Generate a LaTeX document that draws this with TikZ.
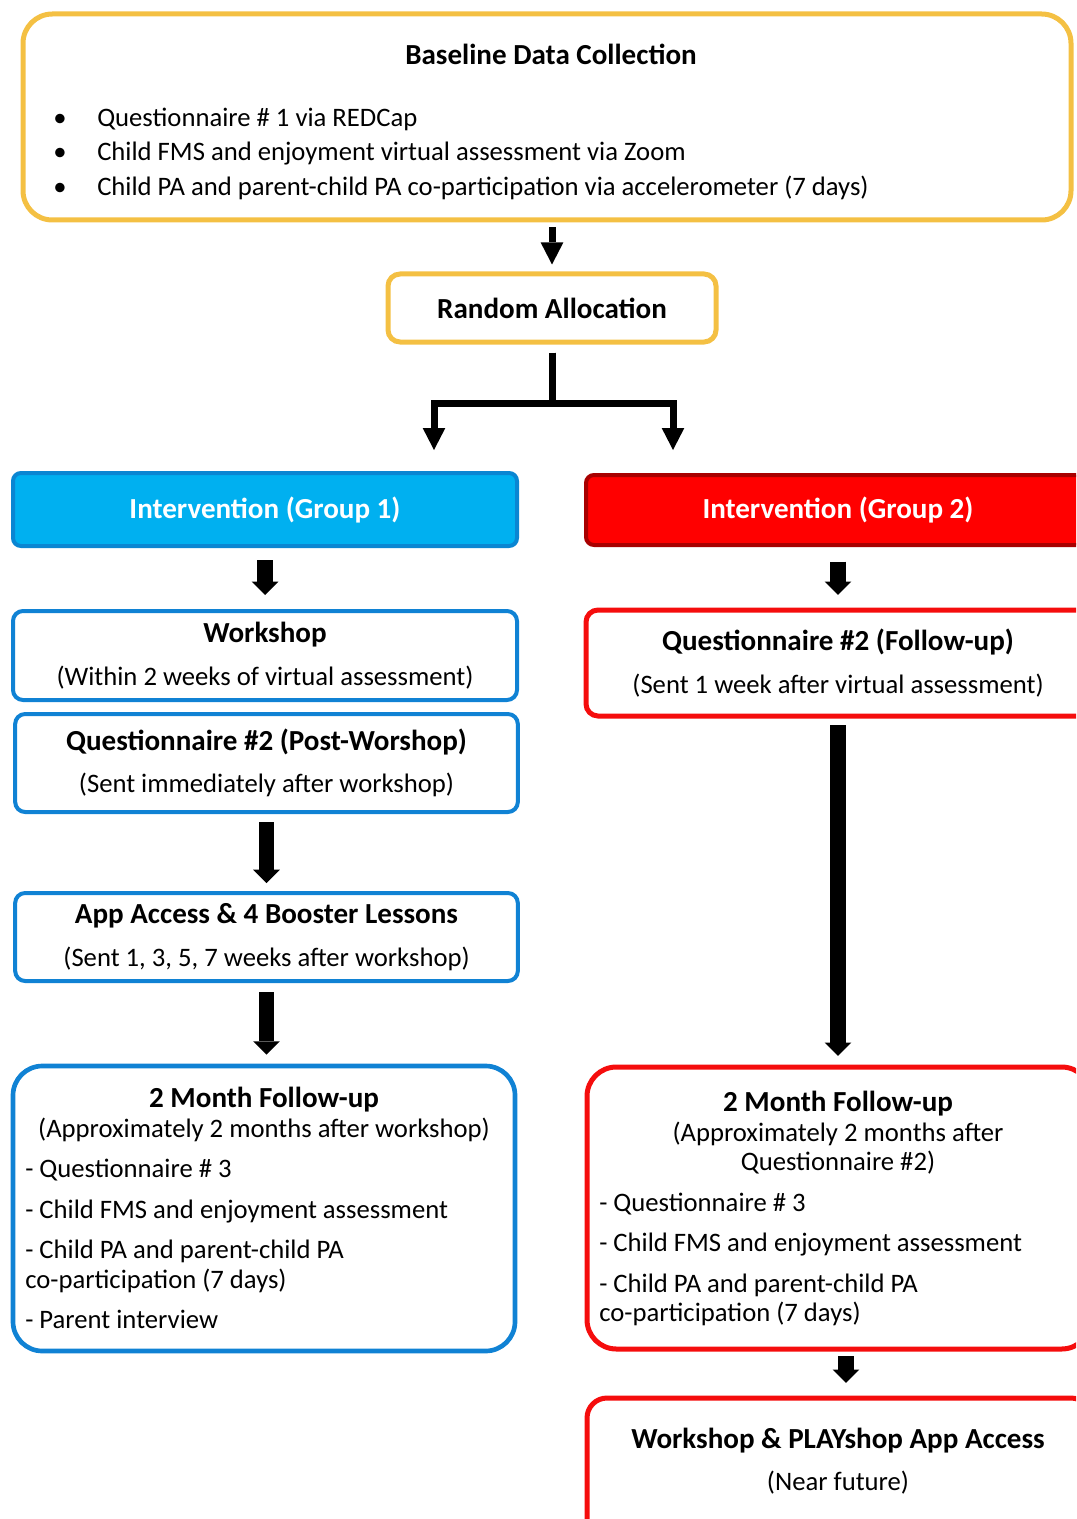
\documentclass[tikz,border=0pt]{standalone}
\usepackage{fontspec}
\setmainfont{Carlito}
\usetikzlibrary{arrows.meta}

\definecolor{gold}{HTML}{F4C043}
\definecolor{boxblue}{HTML}{1082D4}
\definecolor{fillblue}{HTML}{00B0F0}
\definecolor{lineblue}{HTML}{0A86D2}
\definecolor{boxred}{HTML}{F50D0D}
\definecolor{darkred}{HTML}{A80000}

\newcommand{\boxtitle}[1]{{\fontsize{21.8}{26}\selectfont\bfseries #1}}

\begin{document}
\begin{tikzpicture}[
        x=0.75pt, y=-0.75pt,
        box/.style={draw, line width=3pt, rounded corners=7.5pt, minimum width=378pt, inner sep=0pt, align=center, font=\fontsize{20}{24}\selectfont},
        bodytext/.style={inner sep=0pt, font=\fontsize{20}{24}\selectfont},
        titletext/.style={inner sep=0pt, font=\fontsize{21.8}{26}\selectfont\bfseries},
        thinarrow/.style={line width=5.25pt, -{Triangle[length=16.5pt, width=17pt, line width=0pt]}},
        blockarrow/.style={line width=11.5pt, -{Triangle[length=10pt, width=20pt, line width=0pt]}},
    ]
    \useasboundingbox (0,0) rectangle (1076,1519);
    \clip (0,0) rectangle (1076,1519);

    %====================== BASELINE ======================
    \node[box, draw=gold, line width=3.75pt, rounded corners=22pt, minimum width=786pt, minimum height=154.5pt] (baseline) at (547,117) {};
    \node[titletext] (base-title) at (551,54) {Baseline Data Collection};
    \node[bodytext, anchor=base] (bul-a) at (60,127) {•};
    \node[bodytext, anchor=base] (bul-b) at (60,161) {•};
    \node[bodytext, anchor=base] (bul-c) at (60,196) {•};
    \node[bodytext, anchor=base west] (base-a) at (97,127) {Questionnaire \# 1 via REDCap};
    \node[bodytext, anchor=base west] (base-b) at (97,161) {Child FMS and enjoyment virtual assessment via Zoom};
    \node[bodytext, anchor=base west] (base-c) at (97,196) {Child PA and parent-child PA co-participation via accelerometer (7 days)};

    \node[box, draw=gold, line width=3.75pt, rounded corners=9pt, minimum width=246pt, minimum height=51pt, font=\fontsize{21.8}{26}\selectfont\bfseries] (random) at (552,308) {Random Allocation};

    \draw[thinarrow, shorten <=3.75pt, shorten >=5.25pt] (random.north |- baseline.south) -- (random.north);

    \coordinate (split) at (552,403);
    \coordinate (g1in) at (434,450);
    \coordinate (g2in) at (673,450);
    \draw[thinarrow, shorten <=6pt] (random.south) -- (split) -| (g1in);
    \draw[thinarrow, shorten <=6pt] (random.south) -- (split) -| (g2in);

    %====================== GROUP 1 (left) ======================
    \node[box, draw=lineblue, fill=fillblue, text=white, rounded corners=6pt, minimum height=54.75pt, font=\fontsize{21.8}{26}\selectfont\bfseries] (group1) at (265,509.5) {Intervention (Group 1)};

    \node[box, draw=boxblue, minimum height=66.75pt] (workshop) at (265,655.5) {\boxtitle{Workshop}\\[8pt](Within 2 weeks of virtual assessment)};
    \node[box, draw=boxblue, minimum width=377pt, minimum height=73.5pt] (q2post) at (266.5,763) {\boxtitle{Questionnaire \#2 (Post-Worshop)}\\[8pt](Sent immediately after workshop)};
    \node[box, draw=boxblue, minimum width=377pt, minimum height=66pt] (app) at (266.5,937) {\boxtitle{App Access \& 4 Booster Lessons}\\[8pt](Sent 1, 3, 5, 7 weeks after workshop)};

    \node[box, draw=boxblue, line width=3.5pt, rounded corners=22pt, minimum width=376.5pt, minimum height=213.75pt] (fu1) at (264,1208.5) {};
    \node[titletext] (fu1-title) at (264,1100) {2 Month Follow-up};
    \node[bodytext] (fu1-sub) at (264,1130) {(Approximately 2 months after workshop)};
    \node[bodytext, anchor=base west] (fu1-a) at (25,1177) {- Questionnaire \# 3};
    \node[bodytext, anchor=base west] (fu1-b) at (25,1218) {- Child FMS and enjoyment assessment};
    \node[bodytext, anchor=base west] (fu1-c) at (25,1258) {- Child PA and parent-child PA};
    \node[bodytext, anchor=base west] (fu1-d) at (25,1288) {co-participation (7 days)};
    \node[bodytext, anchor=base west] (fu1-e) at (25,1328) {- Parent interview};

    \draw[blockarrow, shorten <=9pt, shorten >=10.5pt] (group1) -- (workshop);
    \draw[blockarrow, shorten <=6pt, shorten >=6pt] (q2post) -- (app);
    \draw[blockarrow, shorten <=6.75pt, shorten >=6.75pt] (app.south) -- (app.south |- fu1.north);

    %====================== GROUP 2 (right) ======================
    \node[box, draw=darkred, fill=red, text=white, rounded corners=6pt, minimum height=52.5pt, font=\fontsize{21.8}{26}\selectfont\bfseries] (group2) at (838,510) {Intervention (Group 2)};

    \node[box, draw=boxred, line width=3.75pt, rounded corners=9pt, minimum height=79.5pt] (q2fu) at (838,663) {\boxtitle{Questionnaire \#2 (Follow-up)}\\[8pt](Sent 1 week after virtual assessment)};

    \node[box, draw=boxred, line width=3.75pt, rounded corners=22pt, minimum height=211.5pt] (fu2) at (839,1208) {};
    \node[titletext] (fu2-title) at (838,1104) {2 Month Follow-up};
    \node[bodytext] (fu2-sub) at (838,1134) {(Approximately 2 months after};
    \node[bodytext] (fu2-sub2) at (838,1163) {Questionnaire \#2)};
    \node[bodytext, anchor=base west] (fu2-a) at (599,1211) {- Questionnaire \# 3};
    \node[bodytext, anchor=base west] (fu2-b) at (599,1251) {- Child FMS and enjoyment assessment};
    \node[bodytext, anchor=base west] (fu2-c) at (599,1292) {- Child PA and parent-child PA};
    \node[bodytext, anchor=base west] (fu2-d) at (599,1321) {co-participation (7 days)};

    \node[box, draw=boxred, line width=3.75pt, rounded corners=15pt, minimum height=106.5pt] (play) at (839,1469) {};
    \node[titletext] (play-title) at (838,1441) {Workshop \& PLAYshop App Access};
    \node[bodytext] (play-sub) at (838,1483) {(Near future)};

    \draw[blockarrow, shorten <=11pt, shorten >=9.4pt] (group2) -- (q2fu);
    \draw[blockarrow, line width=12pt, shorten <=5pt, shorten >=6.4pt] (q2fu.south) -- (q2fu.south |- fu2.north);
    \draw[blockarrow, shorten <=3.4pt, shorten >=9.4pt] ([xshift=5.25pt]fu2.south) -- ([xshift=5.25pt]play.north);

\end{tikzpicture}
\end{document}
